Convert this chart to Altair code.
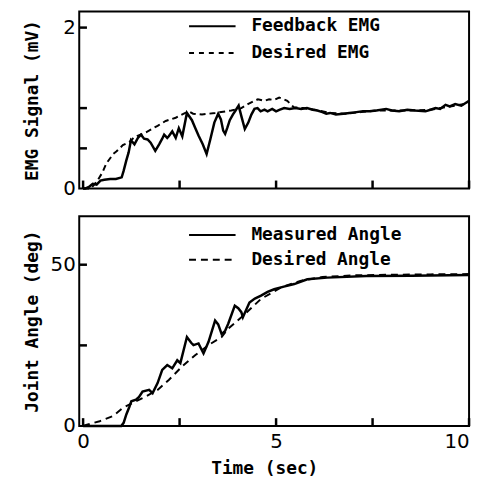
import altair as alt
import pandas as pd

# ---------------- data ----------------
fb_emg_t = [0.0, 0.05, 0.15, 0.25, 0.35, 0.45, 0.55, 0.7, 0.85, 1.0, 1.05, 1.12, 1.18, 1.24,
            1.33, 1.42, 1.50, 1.58, 1.67, 1.75, 1.87, 1.97, 2.05, 2.10, 2.18, 2.22, 2.31,
            2.40, 2.48, 2.57, 2.69, 2.82, 2.90, 2.99, 3.10, 3.20, 3.30, 3.40, 3.50, 3.57,
            3.63, 3.68, 3.74, 3.80, 3.88, 3.95, 4.03, 4.10, 4.19, 4.28, 4.36, 4.44, 4.52,
            4.60, 4.70, 4.78, 4.90, 5.00, 5.10, 5.21, 5.35, 5.50, 5.65, 5.80, 5.95, 6.07,
            6.20, 6.30, 6.40, 6.55, 6.74, 6.90, 7.08, 7.25, 7.42, 7.60, 7.85, 8.00, 8.19,
            8.40, 8.60, 8.87, 9.00, 9.13, 9.25, 9.39, 9.50, 9.64, 9.80, 9.90, 10.0]
fb_emg_v = [0.0, 0.0, 0.02, 0.06, 0.05, 0.10, 0.11, 0.12, 0.12, 0.14, 0.22, 0.35, 0.45, 0.60,
            0.55, 0.63, 0.67, 0.62, 0.61, 0.57, 0.47, 0.55, 0.62, 0.67, 0.63, 0.65, 0.71,
            0.63, 0.75, 0.65, 0.94, 0.85, 0.76, 0.66, 0.55, 0.43, 0.62, 0.82, 0.93, 0.86,
            0.72, 0.68, 0.76, 0.85, 0.92, 0.97, 1.03, 0.90, 0.74, 0.82, 0.92, 0.99, 1.00,
            0.96, 0.98, 0.96, 0.99, 0.96, 0.98, 1.00, 0.99, 1.00, 0.99, 1.00, 0.98, 0.97,
            0.95, 0.93, 0.94, 0.92, 0.93, 0.94, 0.95, 0.96, 0.96, 0.97, 0.99, 0.97, 0.96,
            0.98, 0.97, 0.96, 0.98, 1.00, 0.99, 1.04, 1.02, 1.05, 1.03, 1.06, 1.09]

des_emg_t = [0.0, 0.2, 0.36, 0.5, 0.6, 0.78, 0.86, 1.03, 1.2, 1.33, 1.63, 1.93, 2.14, 2.40,
             2.65, 2.74, 2.85, 3.08, 3.42, 3.84, 4.10, 4.27, 4.53, 4.70, 4.82, 4.95, 5.08,
             5.20, 5.29, 5.46, 5.70, 6.00, 6.40, 6.80, 7.20, 7.60, 8.00, 8.50, 9.00, 9.50, 10.0]
des_emg_v = [0.0, 0.0, 0.09, 0.20, 0.31, 0.43, 0.46, 0.54, 0.58, 0.64, 0.70, 0.78, 0.84, 0.88,
             0.94, 0.96, 0.93, 0.92, 0.94, 0.97, 1.00, 1.05, 1.11, 1.09, 1.11, 1.10, 1.13,
             1.11, 1.09, 1.01, 1.00, 0.98, 0.94, 0.93, 0.95, 0.97, 0.97, 0.97, 0.98, 1.02, 1.06]

meas_ang_t = [0.0, 0.5, 0.99, 1.05, 1.12, 1.20, 1.25, 1.37, 1.45, 1.54, 1.71, 1.80, 1.93, 2.05,
              2.18, 2.31, 2.44, 2.52, 2.69, 2.80, 2.86, 2.99, 3.12, 3.25, 3.42, 3.50, 3.59,
              3.68, 3.76, 3.93, 4.02, 4.10, 4.14, 4.31, 4.45, 4.61, 4.78, 4.95, 5.20, 5.47,
              5.81, 6.32, 7.34, 8.50, 10.0]
meas_ang_v = [0.0, 0.0, 0.0, 1.0, 3.6, 6.0, 7.7, 8.2, 9.0, 10.7, 11.2, 10.2, 13.3, 17.4,
              18.9, 17.9, 20.4, 19.5, 27.6, 25.8, 25.1, 25.6, 22.5, 26.1, 32.7, 31.5, 28.5,
              29.5, 31.7, 37.3, 36.5, 35.3, 33.7, 38.3, 39.5, 40.4, 41.6, 42.4, 43.2, 44.0,
              45.5, 46.0, 46.5, 46.6, 46.8]

des_ang_t = [0.0, 0.1, 0.43, 0.77, 1.03, 1.30, 1.63, 1.93, 2.22, 2.56, 2.91, 3.25, 3.59, 3.76,
             4.10, 4.61, 5.12, 5.63, 6.20, 7.00, 8.00, 9.00, 10.0]
des_ang_v = [0.0, 0.4, 1.5, 3.1, 5.6, 7.3, 9.2, 11.2, 14.3, 18.4, 22.0, 25.1, 27.6, 30.2,
             33.7, 39.4, 42.9, 45.0, 46.2, 46.7, 46.9, 47.0, 47.1]

emg_labels = ["Feedback EMG", "Desired EMG"]
ang_labels = ["Measured Angle", "Desired Angle"]

# inward tick positions, and the values that carry a label
x_ticks = [0, 2.5, 5, 7.5, 10]
x_label_vals = [0, 5, 10]
emg_ticks = [0.5, 1, 2]
emg_label_vals = [0, 2]
ang_ticks = [25, 50]
ang_label_vals = [0, 50]

# ---------------- style ----------------
FONT = "DejaVu Sans Mono"
NUMFONT = "DejaVu Sans"
W = 394
H_TOP = 179
H_BOT = 212
X_MIN = -0.1
X_TICKLEN = 0.2           # ~8 px in x units
EMG_TICKLEN = 0.1         # ~8 px in mV
ANG_TICKLEN = 2.45        # ~8 px in deg

x_scale = alt.Scale(domain=[X_MIN, 10], nice=False, zero=False)


def df(t, v):
    return pd.DataFrame({"t": t, "v": v})


def legend_layers(labels, dash, ys):
    out = []
    for lab, d, yy in zip(labels, dash, ys):
        one = pd.DataFrame({"label": [lab]})
        rule = alt.Chart(one).mark_rule(color="black", strokeWidth=2, strokeDash=d).encode(
            x=alt.value(111), x2=alt.value(158), y=alt.value(yy))
        txt = alt.Chart(one).mark_text(align="left", baseline="middle", font=FONT,
                                      fontSize=18, fontWeight="bold", color="black").encode(
            x=alt.value(174), y=alt.value(yy), text="label:N")
        out += [rule, txt]
    return out


def tick_layers(xenc, yenc, yvals, ylen):
    xt = alt.Chart(pd.DataFrame({"t": x_ticks})).mark_rule(color="black", strokeWidth=2.5).encode(
        x=xenc, y=alt.datum(0), y2=alt.datum(ylen))
    yt = alt.Chart(pd.DataFrame({"v": yvals})).mark_rule(color="black", strokeWidth=2.5).encode(
        y=yenc, x=alt.datum(X_MIN), x2=alt.datum(X_MIN + X_TICKLEN))
    return [xt, yt]


# ---------------- top panel ----------------
x_top = alt.X("t:Q", scale=x_scale,
              axis=alt.Axis(values=x_label_vals, labels=False, ticks=False, title=None))
y_top = alt.Y("v:Q", scale=alt.Scale(domain=[0, 2.2], nice=False),
              axis=alt.Axis(values=emg_label_vals, ticks=False, labelPadding=4, format="d",
                            title="EMG Signal (mV)", titleX=-38))

top_fb = alt.Chart(df(fb_emg_t, fb_emg_v)).mark_line(color="black", strokeWidth=2.5).encode(
    x=x_top, y=y_top)
top_des = alt.Chart(df(des_emg_t, des_emg_v)).mark_line(
    color="black", strokeWidth=2, strokeDash=[6, 4]).encode(x=x_top, y=y_top)

top = alt.layer(top_fb, top_des,
                *tick_layers(x_top, y_top, emg_ticks, EMG_TICKLEN),
                *legend_layers(emg_labels, [[1, 0], [5, 5]], [15, 42])).properties(
    width=W, height=H_TOP)

# ---------------- bottom panel ----------------
x_bot = alt.X("t:Q", scale=x_scale,
              axis=alt.Axis(values=x_label_vals, ticks=False, labelPadding=6, labelFlush=1,
                            format="d", title="Time (sec)", titleX=187, titleY=34,
                            titleBaseline="top"))
y_bot = alt.Y("v:Q", scale=alt.Scale(domain=[0, 65], nice=False),
              axis=alt.Axis(values=ang_label_vals, ticks=False, labelPadding=4, format="d",
                            title="Joint Angle (deg)", titleX=-38))

bot_meas = alt.Chart(df(meas_ang_t, meas_ang_v)).mark_line(color="black", strokeWidth=2.5).encode(
    x=x_bot, y=y_bot)
bot_des = alt.Chart(df(des_ang_t, des_ang_v)).mark_line(
    color="black", strokeWidth=2, strokeDash=[7, 5]).encode(x=x_bot, y=y_bot)

bot = alt.layer(bot_meas, bot_des,
                *tick_layers(x_bot, y_bot, ang_ticks, ANG_TICKLEN),
                *legend_layers(ang_labels, [[1, 0], [7, 5]], [19, 44])).properties(
    width=W, height=H_BOT)

chart = alt.vconcat(top, bot, spacing=16).properties(
    padding={"left": 14, "top": 0, "right": 0, "bottom": 0}
).configure_view(
    stroke="black", strokeWidth=2
).configure_axis(
    labelFont=NUMFONT, labelFontSize=20, labelColor="black",
    domain=False, grid=False,
    titleFont=FONT, titleFontSize=18, titleFontWeight="bold", titleColor="black"
)

chart.save("out.html", embed_options={"renderer": "svg", "actions": False})
